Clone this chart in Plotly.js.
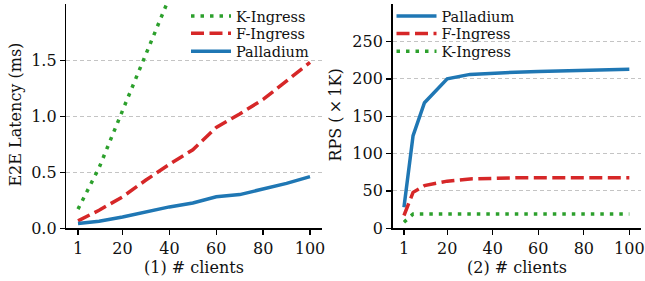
<!DOCTYPE html>
<html>
<head>
<meta charset="utf-8">
<script src="https://cdn.plot.ly/plotly-3.0.1.min.js"></script>
<style>html,body{margin:0;padding:0;background:#fff;}#chart{width:645px;height:281px;}</style>
</head>
<body>
<div id="chart"></div>
<script>
// Panel (1): E2E latency (ms) vs # clients
const latClients = [1, 10, 20, 30, 40, 50, 60, 70, 80, 90, 100];
const latPalladium = [0.042, 0.062, 0.10, 0.145, 0.19, 0.225, 0.28, 0.30, 0.35, 0.40, 0.46];
const latFIngress = [0.065, 0.16, 0.28, 0.43, 0.57, 0.70, 0.90, 1.02, 1.15, 1.32, 1.48];
const latKClients = [1, 10, 20, 30, 40];
const latKIngress = [0.17, 0.54, 1.05, 1.56, 2.06];

// Panel (2): RPS (x1K) vs # clients
const rpsClients = [1, 5, 10, 20, 30, 40, 50, 60, 70, 80, 90, 100];
const rpsPalladium = [28, 124, 168, 200, 206, 208, 209, 210, 211, 212, 212.5, 213];
const rpsFIngress = [17, 48, 57, 63, 66, 67, 67.5, 67.5, 67.5, 67.5, 67.5, 67.5];
const rpsKIngress = [8, 19, 19, 19, 19, 19, 19, 19, 19, 19, 19, 19];

const xTicks = [1, 20, 40, 60, 80, 100];
const latTicks = [0, 0.5, 1.0, 1.5];
const rpsTicks = [0, 50, 100, 150, 200, 250];

const BLUE = '#1f77b4', RED = '#d62728', GREEN = '#2ca02c';
const FONT = 'DejaVu Serif';
const LW = 3.5;
const DASH = '13px,5.5px';
const DOT = '3.5px,6px';

const traces = [
  {x: latKClients, y: latKIngress, name: 'K-Ingress', xaxis: 'x', yaxis: 'y', legend: 'legend',
   mode: 'lines', line: {color: GREEN, width: LW, dash: DOT}},
  {x: latClients, y: latFIngress, name: 'F-Ingress', xaxis: 'x', yaxis: 'y', legend: 'legend2',
   mode: 'lines', line: {color: RED, width: LW, dash: DASH}},
  {x: latClients, y: latPalladium, name: 'Palladium', xaxis: 'x', yaxis: 'y', legend: 'legend3',
   mode: 'lines', line: {color: BLUE, width: LW}},
  {x: rpsClients, y: rpsPalladium, name: 'Palladium', xaxis: 'x2', yaxis: 'y2', legend: 'legend4',
   mode: 'lines', line: {color: BLUE, width: LW}},
  {x: rpsClients, y: rpsFIngress, name: 'F-Ingress', xaxis: 'x2', yaxis: 'y2', legend: 'legend5',
   mode: 'lines', line: {color: RED, width: LW, dash: DASH}},
  {x: rpsClients, y: rpsKIngress, name: 'K-Ingress', xaxis: 'x2', yaxis: 'y2', legend: 'legend6',
   mode: 'lines', line: {color: GREEN, width: LW, dash: DOT}}
];

const W = 645, H = 281;
const px = v => v / W;
const py = v => 1 - v / H;

const xBase = {
  range: [-3.95, 104.95], tickvals: xTicks, ticktext: xTicks.map(String),
  showline: true, linecolor: '#000', linewidth: 1.6, ticks: 'outside', ticklen: 5, tickwidth: 1.3,
  tickcolor: '#000', showgrid: false, zeroline: false,
  tickfont: {family: FONT, size: 16, color: '#111'}, fixedrange: true
};
const yBase = {
  showline: true, linecolor: '#000', linewidth: 1.6, ticks: 'outside', ticklen: 5, tickwidth: 1.3,
  tickcolor: '#000', showgrid: true, gridcolor: '#c4c4c4', griddash: '4px,3px', gridwidth: 1,
  zeroline: false, tickfont: {family: FONT, size: 16, color: '#111'}, fixedrange: true
};

function leg(xLine, yCenter) {
  return {x: px(xLine - 6), y: py(yCenter - 16.5), xanchor: 'left', yanchor: 'top',
    bgcolor: 'rgba(0,0,0,0)', itemwidth: 40,
    font: {family: FONT, size: 14.5, color: '#111'}};
}

const layout = {
  width: W, height: H,
  margin: {l: 0, r: 0, t: 0, b: 0},
  paper_bgcolor: '#fff', plot_bgcolor: '#fff',
  font: {family: FONT, color: '#111'},
  xaxis: Object.assign({}, xBase, {domain: [px(66.4), px(321.6)], anchor: 'y'}),
  xaxis2: Object.assign({}, xBase, {domain: [px(392.7), px(640.6)], anchor: 'y2'}),
  yaxis: Object.assign({}, yBase, {domain: [1 - 228 / H, 1 - 3.2 / H], range: [0, 2.0], anchor: 'x',
    tickvals: latTicks, ticktext: latTicks.map(v => v.toFixed(1))}),
  yaxis2: Object.assign({}, yBase, {domain: [1 - 228 / H, 1 - 3.2 / H], range: [0, 300], anchor: 'x2',
    tickvals: rpsTicks, ticktext: rpsTicks.map(String)}),
  showlegend: true,
  legend: leg(192, 15.7),
  legend2: leg(192, 33.7),
  legend3: leg(192, 51.7),
  legend4: leg(397.5, 15.7),
  legend5: leg(397.5, 34),
  legend6: leg(397.5, 51.7),
  annotations: [
    {text: '(1) # clients', xref: 'paper', yref: 'paper', x: px(194), y: py(267),
     xanchor: 'center', yanchor: 'middle', showarrow: false, font: {family: FONT, size: 16, color: '#111'}},
    {text: '(2) # clients', xref: 'paper', yref: 'paper', x: px(517), y: py(267),
     xanchor: 'center', yanchor: 'middle', showarrow: false, font: {family: FONT, size: 16, color: '#111'}},
    {text: 'E2E Latency (ms)', xref: 'paper', yref: 'paper', x: px(16), y: py(114), textangle: -90,
     xanchor: 'center', yanchor: 'middle', showarrow: false, font: {family: FONT, size: 16, color: '#111'}},
    {text: 'RPS (\u2009\u00d7\u20091K)', xref: 'paper', yref: 'paper', x: px(336), y: py(115), textangle: -90,
     xanchor: 'center', yanchor: 'middle', showarrow: false, font: {family: FONT, size: 16, color: '#111'}}
  ]
};

Plotly.newPlot('chart', traces, layout, {staticPlot: true, displayModeBar: false});
</script>
</body>
</html>
